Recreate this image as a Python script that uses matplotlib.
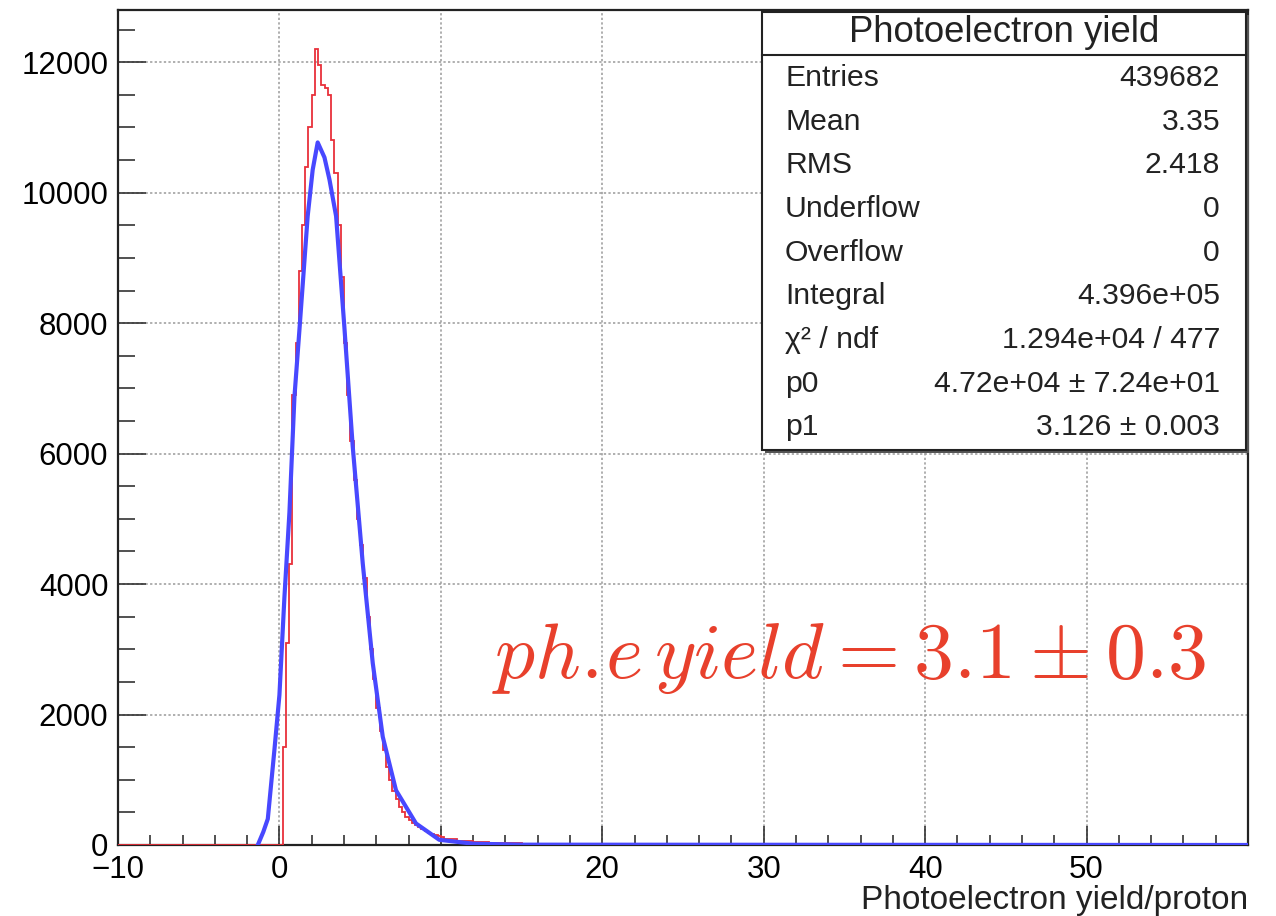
import numpy as np
import matplotlib.pyplot as plt
from matplotlib.patches import Rectangle
from matplotlib.ticker import MultipleLocator

plt.rcParams['font.family'] = ['Liberation Sans', 'DejaVu Sans']

# red histogram: fine bins 0.2..10.2 (width 0.2), then a coarse tail
red_fine = [1500, 3100, 4300, 6900, 7700, 8800, 9500, 10400, 11000, 11500,
            12200, 11950, 11650, 11600, 11500, 10800, 10300, 9500, 8700, 7700,
            6900, 6200, 5600, 5000, 4600, 4100, 3500, 3000, 2550, 2100,
            1750, 1450, 1200, 1000, 830, 700, 590, 500, 430, 380,
            340, 300, 270, 240, 210, 190, 170, 150, 135, 120]
tail_edges = [10.2, 11, 12, 13, 14, 15, 17, 20, 25, 30, 40, 50, 60]
red_tail = [90, 60, 45, 35, 30, 20, 10, 5, 3, 2, 1, 1]

# blue curve
blue_x = [-1.34, -1.0, -0.72, -0.31, 0.0, 0.31, 0.62, 0.93, 1.24, 1.75, 2.06, 2.37,
          2.79, 3.1, 3.51, 4.02, 4.54, 5.16, 5.78, 6.4, 7.22, 8.46, 9.9, 12, 15, 60]
blue_y = [0, 200, 400, 1460, 2300, 3800, 5100, 6870, 7900, 9640, 10350, 10770,
          10540, 10200, 9640, 7950, 6110, 4320, 2790, 1660, 840, 330, 80, 20, 5, 0]

stat_names = ['Entries', 'Mean', 'RMS', 'Underflow', 'Overflow', 'Integral',
              'χ² / ndf', 'p0', 'p1']
stat_values = ['439682', '3.35', '2.418', '0', '0', '4.396e+05',
               '1.294e+04 / 477', '4.72e+04 ± 7.24e+01', '3.126 ± 0.003']

W, H = 1276, 916
fig = plt.figure(figsize=(W / 100, H / 100), dpi=100)
ax = fig.add_axes([118 / W, 71 / H, 1130 / W, 835 / H])

edges = np.concatenate([[-10.0], np.round(np.arange(0.2, 10.21, 0.2), 2), tail_edges[1:]])
counts = np.concatenate([[0], red_fine, red_tail])
ax.stairs(counts, edges, color='#e8303a', lw=1.3, zorder=3)
ax.plot(blue_x, blue_y, color='#4848ff', lw=3, zorder=4, solid_joinstyle='round')

ax.set_xlim(-10, 60)
ax.set_ylim(0, 12800)
ax.xaxis.set_major_locator(MultipleLocator(10))
ax.xaxis.set_minor_locator(MultipleLocator(2))
ax.yaxis.set_major_locator(MultipleLocator(2000))
ax.yaxis.set_minor_locator(MultipleLocator(500))
ax.set_xticks([-10, 0, 10, 20, 30, 40, 50])
ax.set_xticklabels(['\u221210', '0', '10', '20', '30', '40', '50'])
ax.tick_params(axis='both', which='both', direction='in', labelsize=22.5, width=1.2, color='#333333')
ax.tick_params(axis='x', which='major', length=14, pad=7)
ax.tick_params(axis='x', which='minor', length=7)
ax.tick_params(axis='y', which='major', length=20, pad=7)
ax.tick_params(axis='y', which='minor', length=12)
ax.grid(True, which='major', linestyle=(0, (1.5, 1.5)), color='#9a9a9a', lw=1.1)
for s in ax.spines.values():
    s.set_linewidth(1.6)
    s.set_color('#222222')

fig.text(1248 / W, 1 - 900 / H, 'Photoelectron yield/proton', ha='right', va='center', fontsize=24, color='#222222')

ax.text(0.5 * (494 + 1204) / W, 1 - 658 / H, r'$ph.\!e\,yield = 3.1 \pm 0.3$',
        transform=fig.transFigure, ha='center', va='center', fontsize=57.5,
        color='#e8402c', math_fontfamily='cm')

# stats box
x0, x1, yt, yb, yd = 762 / W, 1246 / W, 1 - 12 / H, 1 - 450 / H, 1 - 55 / H
ax.add_patch(Rectangle((x0 + 3 / W, yb - 3 / H), x1 - x0, yt - yb, transform=fig.transFigure,
                       facecolor='#555555', edgecolor='none', zorder=9, clip_on=False))
ax.add_patch(Rectangle((x0, yb), x1 - x0, yt - yb, transform=fig.transFigure,
                       facecolor='white', edgecolor='#222222', lw=1.5, zorder=10, clip_on=False))
ax.plot([x0, x1], [yd, yd], transform=fig.transFigure, color='#222222', lw=1.5, zorder=11, clip_on=False)
ax.text((x0 + x1) / 2, 1 - 33 / H, 'Photoelectron yield', transform=fig.transFigure,
        ha='center', va='center', fontsize=26.3, color='#222222', zorder=12)
row_y = [78, 122, 165, 209, 253, 296, 340, 384, 427]
for name, val, ry in zip(stat_names, stat_values, row_y):
    ax.text(785 / W, 1 - ry / H, name, transform=fig.transFigure, ha='left', va='center',
            fontsize=21.7, color='#222222', zorder=12)
    ax.text(1220 / W, 1 - ry / H, val, transform=fig.transFigure, ha='right', va='center',
            fontsize=21.7, color='#222222', zorder=12)

fig.savefig('out.png', dpi=100)
